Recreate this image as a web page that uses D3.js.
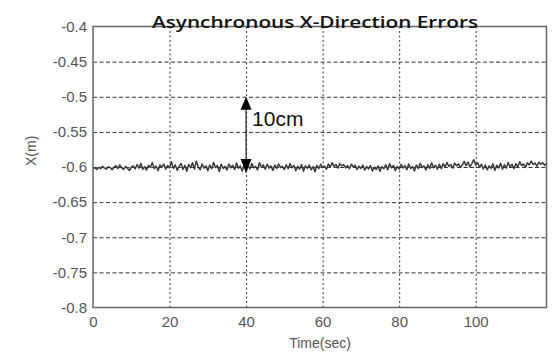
<!DOCTYPE html>
<html>
<head>
<meta charset="utf-8">
<script src="https://cdn.jsdelivr.net/npm/d3@7"></script>
<style>
  html, body { margin: 0; padding: 0; background: #fff; }
  svg { display: block; }
</style>
</head>
<body>
<svg id="chart" width="555" height="361"></svg>
<script>
// ---- data ----
const titleText = "Asynchronous X-Direction Errors";
const xLabel = "Time(sec)";
const yLabel = "X(m)";
const xTicks = [0, 20, 40, 60, 80, 100];
const yTicks = [-0.4, -0.45, -0.5, -0.55, -0.6, -0.65, -0.7, -0.75, -0.8];
const xDomain = [0, 118.5];
const yDomain = [-0.8, -0.4];
const sampleStep = 0.5; // seconds between samples
const xError = [
  -0.6020,-0.6010,-0.6036,-0.6004,-0.6024,-0.5990,-0.6016,-0.6030,-0.5996,-0.6008,-0.6040,-0.6002,-0.5980,-0.6024,-0.5970,-0.6012,-0.6036,-0.5992,-0.6018,-0.6050,-0.6006,
  -0.5984,-0.6028,-0.5964,-0.6016,-0.5950,-0.6032,-0.5996,-0.6044,-0.5976,-0.6008,-0.5936,-0.6024,-0.5986,-0.6054,-0.5970,-0.6002,-0.5958,-0.6030,-0.5980,-0.6012,
  -0.5924,-0.6020,-0.5970,-0.6048,-0.5992,-0.5948,-0.6036,-0.5976,-0.6060,-0.5964,-0.6010,-0.5940,-0.6030,-0.5916,-0.5998,-0.6040,-0.5956,-0.6016,-0.5984,-0.6052,
  -0.5972,-0.6024,-0.5936,-0.6008,-0.5980,-0.6064,-0.5960,-0.6020,-0.5990,-0.6044,-0.5956,-0.6012,-0.5976,-0.6036,-0.5944,-0.6016,-0.5988,-0.6056,-0.5968,-0.6072,
  -0.5980,-0.6028,-0.5952,-0.6012,-0.5992,-0.6040,-0.5940,-0.6004,-0.5970,-0.6032,-0.5960,-0.6016,-0.5984,-0.6048,-0.5972,-0.6020,-0.5956,-0.6008,-0.5992,-0.6036,
  -0.5968,-0.6024,-0.5950,-0.6012,-0.5980,-0.6052,-0.5990,-0.6030,-0.5964,-0.6060,-0.5984,-0.6020,-0.5972,-0.6040,-0.5996,-0.6068,-0.5976,-0.6024,-0.5960,-0.6008,
  -0.5988,-0.6032,-0.5956,-0.6004,-0.5940,-0.5992,-0.5964,-0.6016,-0.5952,-0.5984,-0.5968,-0.6012,-0.5980,-0.6024,-0.5960,-0.6000,-0.5976,-0.6036,-0.5988,-0.6020,
  -0.5972,-0.6044,-0.5992,-0.6028,-0.5980,-0.6056,-0.6004,-0.6036,-0.5984,-0.6060,-0.5996,-0.6024,-0.5968,-0.6040,-0.5952,-0.6012,-0.5980,-0.6052,-0.5992,-0.6028,
  -0.5964,-0.6016,-0.5980,-0.6040,-0.5956,-0.6020,-0.5992,-0.6056,-0.5972,-0.6024,-0.5948,-0.6008,-0.5984,-0.6044,-0.5968,-0.6020,-0.5940,-0.6012,-0.5976,-0.6032,
  -0.5960,-0.6024,-0.5952,-0.6004,-0.5936,-0.5992,-0.5964,-0.6016,-0.5944,-0.5984,-0.5956,-0.6008,-0.5972,-0.5920,-0.5980,-0.5932,-0.6000,-0.5950,-0.5896,-0.5970,
  -0.5940,-0.6004,-0.5960,-0.6028,-0.5972,-0.6040,-0.5984,-0.6020,-0.5956,-0.6048,-0.5976,-0.6012,-0.5948,-0.6032,-0.5968,-0.6016,-0.5936,-0.6000,-0.5960,-0.6024,
  -0.5952,-0.5996,-0.5924,-0.5980,-0.5956,-0.6008,-0.5940,-0.5972,-0.5916,-0.5964,-0.5944,-0.5988,-0.5932,-0.5960,-0.5940,-0.5976,-0.5950
];
const arrowTime = 40;
const arrowFrom = -0.6;
const arrowTo = -0.5;
const arrowLabel = "10cm";

// ---- layout ----
const margin = { left: 93, top: 26.5, right: 8.5, bottom: 53.5 };
const W = 555, H = 361;
const svg = d3.select("#chart");
const x = d3.scaleLinear().domain(xDomain).range([margin.left, W - margin.right]);
const y = d3.scaleLinear().domain(yDomain).range([H - margin.bottom, margin.top]);

const gridColor = "#333";
const labelColor = "#555";
const font = "'Liberation Sans', Arial, sans-serif";

// grid lines
const yGrid = d3.axisLeft(y).tickValues(yTicks.filter(v => v > yDomain[0] && v < yDomain[1]))
  .tickSize(-(x.range()[1] - x.range()[0])).tickFormat("");
svg.append("g").attr("transform", `translate(${margin.left},0)`).call(yGrid)
  .call(g => g.select(".domain").remove())
  .call(g => g.selectAll("line").attr("stroke", gridColor).attr("stroke-width", 1).attr("stroke-dasharray", "4,2.5"));

const xGrid = d3.axisBottom(x).tickValues(xTicks.filter(v => v > xDomain[0]))
  .tickSize(-(y.range()[0] - y.range()[1])).tickFormat("");
svg.append("g").attr("transform", `translate(0,${H - margin.bottom})`).call(xGrid)
  .call(g => g.select(".domain").remove())
  .call(g => g.selectAll("line").attr("stroke", gridColor).attr("stroke-width", 1).attr("stroke-dasharray", "2,2.5"));

// box
svg.append("rect")
  .attr("x", x.range()[0]).attr("y", y.range()[1])
  .attr("width", x.range()[1] - x.range()[0]).attr("height", y.range()[0] - y.range()[1])
  .attr("fill", "none").attr("stroke", "#666").attr("stroke-width", 1.5);

// y tick labels (plain hyphen minus like the original)
const yAxis = d3.axisLeft(y).tickValues(yTicks).tickSize(0).tickPadding(6)
  .tickFormat(d => String(+d.toFixed(2)));
svg.append("g").attr("transform", `translate(${margin.left},0)`).call(yAxis)
  .call(g => g.select(".domain").remove())
  .call(g => g.selectAll("text").attr("fill", labelColor).attr("font-family", font).attr("font-size", 15));

// x tick labels
const xAxis = d3.axisBottom(x).tickValues(xTicks).tickSize(0).tickPadding(9).tickFormat(d => String(d));
svg.append("g").attr("transform", `translate(0,${H - margin.bottom})`).call(xAxis)
  .call(g => g.select(".domain").remove())
  .call(g => g.selectAll("text").attr("fill", labelColor).attr("font-family", font).attr("font-size", 15));

// data line
const line = d3.line().x((d, i) => x(i * sampleStep)).y(d => y(d));
svg.append("path").datum(xError)
  .attr("fill", "none").attr("stroke", "#3a3a3a").attr("stroke-width", 1.5)
  .attr("stroke-linejoin", "round").attr("d", line);

// arrow
const ax = x(arrowTime);
svg.append("line").attr("x1", ax).attr("x2", ax)
  .attr("y1", y(arrowTo) + 10).attr("y2", y(arrowFrom) - 6)
  .attr("stroke", "#222").attr("stroke-width", 1.2);
const yTop = y(arrowTo);
svg.append("path")
  .attr("d", `M${ax},${yTop} L${ax - 5.5},${yTop + 13} L${ax + 5.5},${yTop + 13} Z`)
  .attr("fill", "#000");
const yBot = y(arrowFrom) + 5;
svg.append("path")
  .attr("d", `M${ax},${yBot} L${ax - 5.5},${yBot - 13} L${ax + 5.5},${yBot - 13} Z`)
  .attr("fill", "#000");
svg.append("text").attr("x", ax + 6).attr("y", y(-0.542))
  .attr("font-family", font).attr("font-size", 21).attr("fill", "#111")
  .text(arrowLabel);

// title
svg.append("text").attr("x", 152).attr("y", 28)
  .attr("font-family", "'Open Sans', 'DejaVu Sans', sans-serif").attr("font-weight", 600)
  .attr("font-size", 17).attr("fill", "#111")
  .attr("textLength", 326).attr("lengthAdjust", "spacingAndGlyphs")
  .text(titleText);

// axis labels
svg.append("text").attr("x", 320).attr("y", 348)
  .attr("text-anchor", "middle").attr("font-family", font).attr("font-size", 14)
  .attr("fill", labelColor).text(xLabel);
svg.append("text").attr("transform", `translate(36,${y(-0.577)}) rotate(-90)`)
  .attr("text-anchor", "middle").attr("font-family", font).attr("font-size", 14)
  .attr("fill", labelColor).text(yLabel);
</script>
</body>
</html>
